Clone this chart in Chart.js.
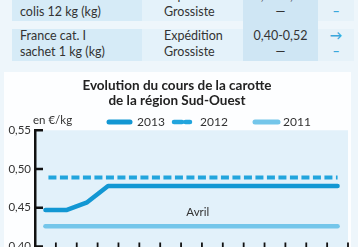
<!DOCTYPE html>
<html>
<head>
<meta charset="utf-8">
<script src="https://cdn.jsdelivr.net/npm/chart.js@4"></script>
<style>
  html, body { margin: 0; padding: 0; }
  body { width: 358px; height: 247px; overflow: hidden; position: relative; background: #eef6fb; font-family: Lato, "Open Sans", sans-serif; color: #333; }
  .cell { position: absolute; }
  .txt { position: absolute; font-size: 12.5px; line-height: 16px; white-space: nowrap; }
  #panel { position: absolute; left: 4px; top: 72px; width: 347px; height: 180px; background: #fdfeff; }
  #chart { position: absolute; left: 0; top: 70px; }
</style>
</head>
<body>
<!-- bout de tableau au-dessus du graphique -->
<div class="cell" style="left:12px;top:-12px;width:130px;height:33px;background:#d6ebf7"></div>
<div class="cell" style="left:12px;top:29px;width:130px;height:32px;background:#d6ebf7"></div>
<div class="cell" style="left:142px;top:-12px;width:101px;height:33px;background:#e4f2fa"></div>
<div class="cell" style="left:142px;top:29px;width:101px;height:32px;background:#e4f2fa"></div>
<div class="cell" style="left:243px;top:-12px;width:75px;height:73px;background:#cfe6f4"></div>
<div class="cell" style="left:318px;top:-12px;width:36px;height:33px;background:#e6f2f9"></div>
<div class="cell" style="left:318px;top:29px;width:36px;height:32px;background:#e6f2f9"></div>

<div class="txt" style="left:20px;top:-12px">France cat. I<br>colis 12 kg (kg)</div>
<div class="txt" style="left:164px;top:-12px">Expédition<br>Grossiste</div>
<div class="txt" style="left:243px;width:75px;text-align:center;top:-12px">0,45-0,55<br>—</div>
<div class="txt" style="left:318px;width:36px;text-align:center;top:-12px;color:#3aa8dc;font-weight:bold">→<br>–</div>

<div class="txt" style="left:20px;top:28px">France cat. I<br>sachet 1 kg (kg)</div>
<div class="txt" style="left:164px;top:28px">Expédition<br>Grossiste</div>
<div class="txt" style="left:243px;width:75px;text-align:center;top:28px">0,40-0,52<br>—</div>
<div class="txt" style="left:318px;width:36px;text-align:center;top:28px;color:#3aa8dc;font-weight:bold">→<br>–</div>

<div id="panel"></div>
<canvas id="chart" width="358" height="200"></canvas>

<script>
"use strict";

// semaines (axe des x, étiquettes hors cadre)
const weeks = ["8", "9", "10", "11", "12", "13", "14", "15", "16", "17", "18", "19", "20", "21", "22"];
const years = ["2013", "2012", "2011"];
const prix2013 = [0.447, 0.447, 0.457, 0.478, 0.478, 0.478, 0.478, 0.478, 0.478, 0.478, 0.478, 0.478, 0.478, 0.478, 0.478];
const prix2012 = [0.489, 0.489, 0.489, 0.489, 0.489, 0.489, 0.489, 0.489, 0.489, 0.489, 0.489, 0.489, 0.489, 0.489, 0.489];
const prix2011 = [0.426, 0.426, 0.426, 0.426, 0.426, 0.426, 0.426, 0.426, 0.426, 0.426, 0.426, 0.426, 0.426, 0.426, 0.426];
const yTicks = [0.40, 0.45, 0.50, 0.55];

const FONT = "Lato, 'Open Sans', sans-serif";

// fond du graphique + petits traits de graduation vers l'intérieur + légende
const decor = {
    id: "decor",
    beforeDraw(chart) {
        const a = chart.chartArea;
        const ctx = chart.ctx;
        ctx.save();
        ctx.fillStyle = "#e2f1fa";
        ctx.fillRect(a.left, a.top, a.right - a.left, a.bottom - a.top + 10);
        ctx.restore();
    },
    afterDraw(chart) {
        const a = chart.chartArea;
        const ctx = chart.ctx;
        const xs = chart.scales.x;
        const ys = chart.scales.y;
        ctx.save();
        ctx.strokeStyle = "#111";
        ctx.lineWidth = 2.5;
        yTicks.forEach(v => {
            const y = ys.getPixelForValue(v);
            ctx.beginPath();
            ctx.moveTo(a.left, y);
            ctx.lineTo(a.left + 8, y);
            ctx.stroke();
        });
        ctx.lineWidth = 1.8;
        for (let i = 0; i < weeks.length; i++) {
            const x = xs.getPixelForValue(i + 0.5);
            ctx.beginPath();
            ctx.moveTo(x, a.bottom - 4);
            ctx.lineTo(x, a.bottom + 2);
            ctx.stroke();
        }

        ctx.fillStyle = "#333";
        ctx.textBaseline = "middle";
        ctx.font = "11.5px " + FONT;
        ctx.fillText("en €/kg", 33, 50);
        ctx.textAlign = "center";
        ctx.fillText("Avril", xs.getPixelForValue(7.3), ys.getPixelForValue(0.4444));

        // légende
        const pos = [[107, 132, 137], [172, 192, 200], [253, 280, 283]];
        ctx.font = "12px " + FONT;
        ctx.textAlign = "left";
        chart.data.datasets.forEach((ds, i) => {
            const p = pos[i];
            ctx.strokeStyle = ds.borderColor;
            ctx.lineWidth = ds.borderWidth + 0.5;
            ctx.lineCap = "round";
            ctx.setLineDash(ds.borderDash || []);
            ctx.beginPath();
            ctx.moveTo(p[0] + 2, 52);
            ctx.lineTo(p[1] - 2, 52);
            ctx.stroke();
            ctx.setLineDash([]);
            ctx.fillStyle = "#333";
            ctx.fillText(ds.label, p[2], 52);
        });
        ctx.restore();
    }
};

new Chart(document.getElementById("chart"), {
    type: "line",
    data: {
        labels: weeks,
        datasets: [
            {
                label: years[0],
                data: prix2013,
                borderColor: "#1297d3",
                borderWidth: 4.5,
                borderCapStyle: "round",
                borderJoinStyle: "round",
            },
            {
                label: years[1],
                data: prix2012,
                borderColor: "#22a5dd",
                borderWidth: 4,
                borderDash: [8, 3.5],
                borderDashOffset: -3,
            },
            {
                label: years[2],
                data: prix2011,
                borderColor: "#74c6ea",
                borderWidth: 4.5,
                borderCapStyle: "round",
            },
        ],
    },
    options: {
        responsive: false,
        animation: false,
        elements: { point: { radius: 0 }, line: { tension: 0, fill: false } },
        layout: { padding: { left: 6, right: 10, top: 0, bottom: 23.5 } },
        scales: {
            x: {
                type: "category",
                offset: true,
                display: false,
            },
            y: {
                min: 0.40,
                max: 0.55,
                afterFit(scale) { scale.width = 29; },
                grid: { display: false, drawTicks: false },
                border: { display: true, color: "#111", width: 2.5 },
                ticks: {
                    stepSize: 0.05,
                    padding: 4,
                    color: "#333",
                    font: { family: FONT, size: 11.5 },
                    callback: v => v.toFixed(2).replace(".", ","),
                },
            },
        },
        plugins: {
            legend: { display: false },
            tooltip: { enabled: false },
            title: {
                display: true,
                text: ["Evolution du cours de la carotte", "de la région Sud-Ouest"],
                color: "#222",
                font: { family: FONT, size: 13.5, weight: "bold", lineHeight: 1.12 },
                padding: { top: 8, bottom: 22 },
            },
        },
    },
    plugins: [decor],
});
</script>
</body>
</html>
